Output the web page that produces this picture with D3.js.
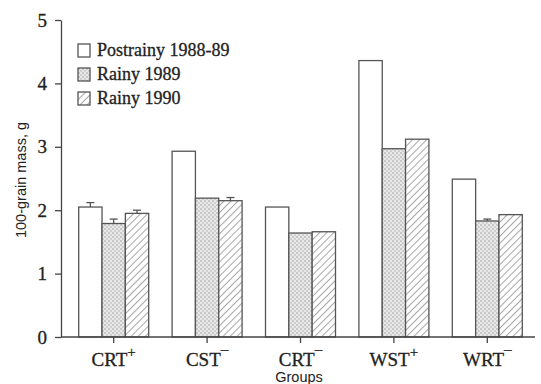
<!DOCTYPE html>
<html><head><meta charset="utf-8">
<script src="https://cdn.jsdelivr.net/npm/d3@7"></script>
<style>body{margin:0;background:#fff}svg{display:block}
.serif{font-family:"Liberation Serif","Times New Roman","DejaVu Serif",serif;stroke:#222;stroke-width:0.3px}
.sans{font-family:"Liberation Sans",Arial,"DejaVu Sans",sans-serif}
</style>
</head><body>
<svg id="c" width="541" height="384"></svg>
<script>
const groups = ["CRT+", "CST-", "CRT-", "WST+", "WRT-"];
const groupBase = ["CRT", "CST", "CRT", "WST", "WRT"];
const groupSup = ["+", "\u2013", "\u2013", "+", "\u2013"];
const seriesNames = ["Postrainy 1988-89", "Rainy 1989", "Rainy 1990"];
const postrainy = [2.05, 2.93, 2.05, 4.36, 2.49];
const rainy1989 = [1.79, 2.19, 1.64, 2.97, 1.83];
const rainy1990 = [1.95, 2.15, 1.66, 3.12, 1.93];
const errPost = [0.07, 0, 0, 0, 0];
const err1989 = [0.07, 0, 0, 0, 0.03];
const err1990 = [0.05, 0.05, 0, 0, 0];
const yTicks = [0, 1, 2, 3, 4, 5];

const svg = d3.select("#c");
const defs = svg.append("defs");
const st = defs.append("pattern").attr("id","stip").attr("patternUnits","userSpaceOnUse").attr("width",4).attr("height",4);
st.append("rect").attr("width",4).attr("height",4).attr("fill","#e8e8e8");
st.append("circle").attr("cx",1).attr("cy",1).attr("r",0.8).attr("fill","#a0a0a0");
st.append("circle").attr("cx",3).attr("cy",3).attr("r",0.8).attr("fill","#b0b0b0");
const ht = defs.append("pattern").attr("id","hatch").attr("patternUnits","userSpaceOnUse").attr("width",5).attr("height",5).attr("patternTransform","rotate(45)");
ht.append("rect").attr("width",5).attr("height",5).attr("fill","#fff");
ht.append("line").attr("x1",0).attr("y1",0).attr("x2",0).attr("y2",5).attr("stroke","#777").attr("stroke-width",1.3);

const fills = ["#fff", "url(#stip)", "url(#hatch)"];
const seriesVals = [postrainy, rainy1989, rainy1990];
const seriesErr = [errPost, err1989, err1990];

const y = d3.scaleLinear().domain([0,5]).range([337,20]);
const x = d3.scaleBand().domain(groups).range([67,534]).paddingInner(0).paddingOuter(0);
const xs = d3.scaleBand().domain(d3.range(3)).range([0,70]);
const gOff = (x.bandwidth()-70)/2;

const stroke = "#555";
seriesVals.forEach((vals, si) => {
  svg.append("g").selectAll("rect").data(groups).join("rect")
    .attr("x", (d,i) => x(d) + gOff + xs(si))
    .attr("width", xs.bandwidth())
    .attr("y", (d,i) => y(vals[i]))
    .attr("height", (d,i) => y(0) - y(vals[i]))
    .attr("fill", fills[si]).attr("stroke", stroke).attr("stroke-width", 1.3);
  const eg = svg.append("g");
  groups.forEach((d,i) => {
    const e = seriesErr[si][i];
    if (!e) return;
    const cx = x(d) + gOff + xs(si) + xs.bandwidth()/2;
    eg.append("line").attr("x1",cx).attr("x2",cx).attr("y1",y(vals[i])).attr("y2",y(vals[i]+e)).attr("stroke",stroke).attr("stroke-width",1.3);
    eg.append("line").attr("x1",cx-4).attr("x2",cx+4).attr("y1",y(vals[i]+e)).attr("y2",y(vals[i]+e)).attr("stroke",stroke).attr("stroke-width",1.3);
  });
});

const ya = svg.append("g").attr("transform","translate(61,0)")
  .call(d3.axisLeft(y).tickValues(yTicks).tickFormat(d3.format("d")).tickSize(6).tickSizeOuter(0));
ya.attr("font-family", null);
ya.select(".domain").attr("stroke","#444").attr("stroke-width",1.3);
ya.selectAll(".tick line").attr("stroke","#444").attr("stroke-width",1.3);
ya.selectAll("text").attr("class","serif").attr("font-size",19).attr("fill","#222").attr("x",-14);

const xa = svg.append("g").attr("transform","translate(0,337)")
  .call(d3.axisBottom(x).tickSize(6).tickSizeOuter(0).tickFormat(""));
xa.attr("font-family", null);
xa.select(".domain").attr("d","M61,0H535").attr("stroke","#444").attr("stroke-width",1.3);
xa.selectAll(".tick line").attr("stroke","#444").attr("stroke-width",1.3);
xa.selectAll(".tick").each(function(d,i){
  const t = d3.select(this).append("text").attr("class","serif").attr("y",29).attr("text-anchor","middle")
    .attr("font-size",19).attr("fill","#222");
  t.append("tspan").text(groupBase[i]);
  t.append("tspan").attr("dy", groupSup[i] === "+" ? -9 : -12).attr("font-size",15).text(groupSup[i]);
});

svg.append("text").attr("class","sans").attr("x",299).attr("y",382).attr("text-anchor","middle")
  .attr("font-size",14.5).attr("fill","#222").text("Groups");
svg.append("text").attr("class","sans").attr("transform","translate(26,180) rotate(-90)").attr("text-anchor","middle")
  .attr("font-size",14.5).attr("fill","#222").text("100-grain mass, g");

const lg = svg.append("g").attr("transform","translate(78,44)");
seriesNames.forEach((n,i) => {
  const r = lg.append("g").attr("transform",`translate(0,${i*24})`);
  r.append("rect").attr("width",12).attr("height",13).attr("fill",fills[i]).attr("stroke",stroke).attr("stroke-width",1.3);
  r.append("text").attr("class","serif").attr("x",19).attr("y",12).attr("font-size",18).attr("fill","#222").text(n);
});
</script>
</body></html>
